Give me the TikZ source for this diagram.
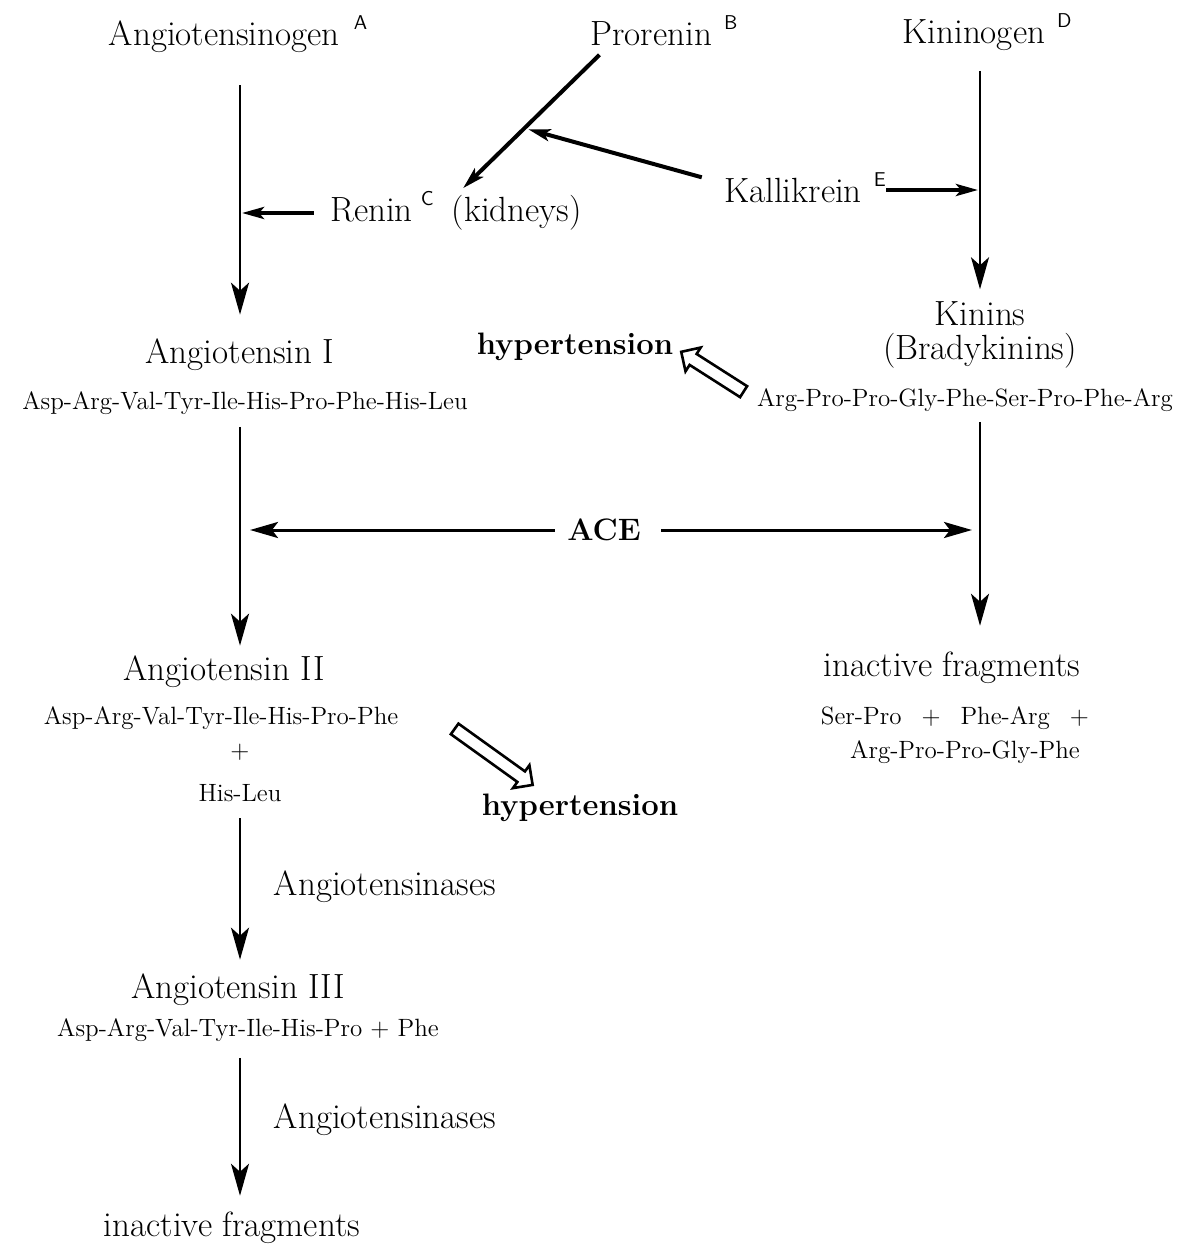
\documentclass[tikz,border=0pt]{standalone}
\usepackage{tikz}
\usetikzlibrary{positioning}
\usetikzlibrary{arrows.meta}
\usetikzlibrary{shapes.arrows}
\tikzstyle{text1} = [inner sep=0pt, font=\fontsize{17.5}{17}\selectfont, align=center]
\tikzstyle{text2} = [inner sep=0pt, font=\fontsize{12.5}{15}\selectfont]
\tikzstyle{text3} = [inner sep=0pt, font=\fontsize{15.5}{18}\selectfont\bfseries]
\tikzstyle{arrow1} = [-{Stealth[length=16pt, width=9pt, inset=4pt]}, line width=1.2pt]
\tikzstyle{arrow2} = [-{Stealth[length=11pt, width=6pt, inset=2.5pt]}, line width=2pt]
\tikzstyle{arrow3} = [-{Stealth[length=14pt, width=8pt, inset=3pt]}, line width=1.5pt]
\tikzstyle{hollow1} = [single arrow, draw, line width=1.3pt, inner xsep=0pt, inner ysep=2.6pt, minimum width=13pt, single arrow head extend=3.8pt, minimum height=37pt, sloped, allow upside down]
\newcommand{\supl}[1]{\smash{\raisebox{8pt}{\fontsize{10}{12}\sffamily #1}}}

\begin{document}
\begin{tikzpicture}[x=0.5pt, y=-0.5pt]
			\useasboundingbox (0,0) rectangle (1180,1247);
			% top row
			\node[text1](angen) at (238,37){Angiotensinogen\hspace{7pt}\supl{A}};
			\node[text1](pro) at (664,34){Prorenin\hspace{6pt}\supl{B}};
			\node[text1](kinen) at (987,35){Kininogen\hspace{6pt}\supl{D}};
			\node[text1](renin) at (456,213){Renin\hspace{4pt}\supl{C}\hspace{9pt}(kidneys)};
			\node[text1](kal) at (805,190){Kallikrein\hspace{6pt}\supl{E}};
			% second row
			\node[text1](ang1) at (240,355){Angiotensin I};
			\node[text2](ang1s) at (245,403){Asp-Arg-Val-Tyr-Ile-His-Pro-Phe-His-Leu};
			\node[text3](hyp1) at (575,347){hypertension};
			\node[text1](kinins) at (980,335){Kinins\\(Bradykinins)};
			\node[text2](kins) at (965,400){Arg-Pro-Pro-Gly-Phe-Ser-Pro-Phe-Arg};
			\node[text3](ace) at (604,530){ACE};
			% third row
			\node[text1](ang2) at (224,672){Angiotensin II};
			\node[text2](ang2s) at (221,718){Asp-Arg-Val-Tyr-Ile-His-Pro-Phe};
			\node[text2](plus) at (240,752){+};
			\node[text2](hisleu) at (240,793){His-Leu};
			\node[text3](hyp2) at (580,808){hypertension};
			\node[text1](frag1) at (952,668){inactive fragments};
			\node[text2](frag1a) at (955,718){Ser-Pro\hspace{10pt}+\hspace{10pt}Phe-Arg\hspace{10pt}+};
			\node[text2](frag1b) at (965,752){Arg-Pro-Pro-Gly-Phe};
			% bottom
			\node[text1](ase1) at (385,887){Angiotensinases};
			\node[text1](ang3) at (238,990){Angiotensin III};
			\node[text2](ang3s) at (248,1030){Asp-Arg-Val-Tyr-Ile-His-Pro + Phe};
			\node[text1](ase2) at (385,1120){Angiotensinases};
			\node[text1](frag2) at (232,1228){inactive fragments};
			% arrows
			\draw[arrow1, shorten <=16pt, shorten >=12pt] (angen.south -| ang1) -- (ang1.north);
			\draw[arrow2, shorten <=8pt, shorten >=1pt] (renin.west) -- (renin.west -| ang1);
			\draw[arrow2, shorten <=6pt, shorten >=5pt] ([xshift=-28pt]pro.south) -- coordinate[pos=0.55](prmid) (renin.north);
			\draw[arrow2, shorten >=2pt] ([xshift=-11pt]kal.north west) -- (prmid);
			\draw[arrow2, shorten >=1pt] (kal.east) -- (kal.east -| kinins);
			\draw[arrow1, shorten <=10pt, shorten >=6pt] (kinen.south -| kinins) -- (kinins.north);
			\draw[arrow1, shorten <=6pt, shorten >=5pt] (ang1s.south -| ang1) -- (ang2.north -| ang1);
			\draw[arrow1, shorten <=5pt, shorten >=13pt] (kins.south -| kinins) -- (frag1.north -| kinins);
			\draw[arrow3, shorten <=6pt, shorten >=5pt] (ace.west) -- (ace.west -| ang1);
			\draw[arrow3, shorten <=10pt, shorten >=4pt] (ace.east) -- (ace.east -| kinins);
			\draw[arrow1, shorten <=8pt, shorten >=7pt] (hisleu.south -| ang1) -- (ang3.north -| ang1);
			\draw[arrow1, shorten <=8pt, shorten >=8pt] (ang3s.south -| ang1) -- (frag2.north -| ang1);
			% hollow arrows
			\path (kins.west) -- node[hollow1]{} (hyp1.east);
			\coordinate (h2tail) at (452,727);
			\coordinate (h2tip) at (530,783);
			\path (h2tail) -- node[hollow1, minimum height=48pt]{} (h2tip);
		\end{tikzpicture}
\end{document}
